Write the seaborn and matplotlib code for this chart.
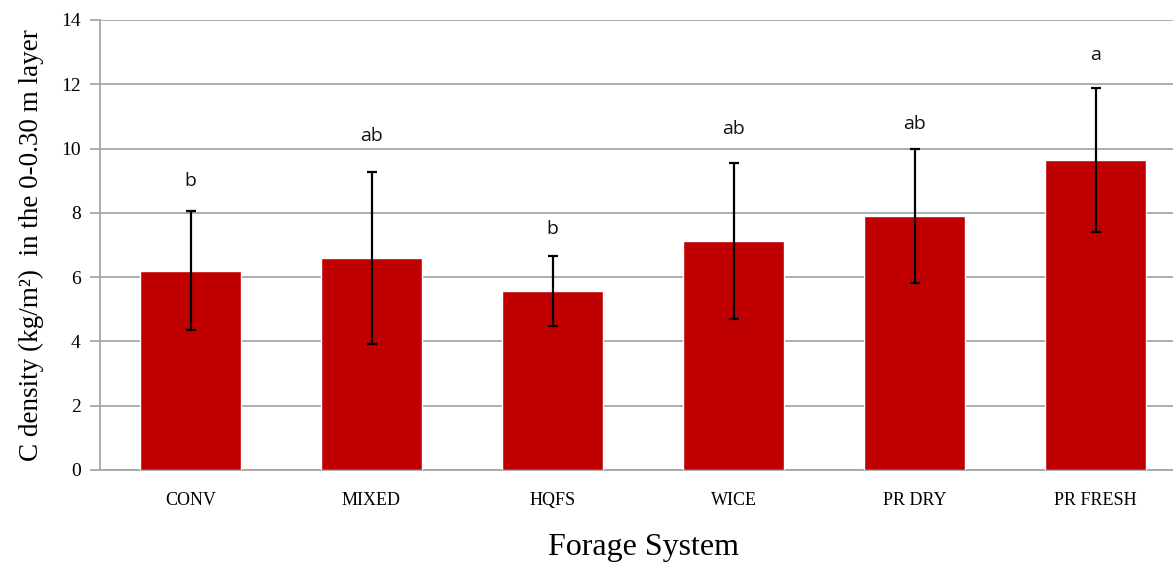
import matplotlib
matplotlib.use("Agg")
import matplotlib.pyplot as plt
import seaborn as sns
import pandas as pd

systems = ["CONV", "MIXED", "HQFS", "WICE", "PR DRY", "PR FRESH"]
c_density = [6.20, 6.59, 5.57, 7.12, 7.91, 9.64]
std_err = [1.85, 2.68, 1.10, 2.42, 2.09, 2.24]
letters = ["b", "ab", "b", "ab", "ab", "a"]
letter_y = [9.0, 10.4, 7.5, 10.6, 10.75, 12.9]

df = pd.DataFrame({"system": systems, "density": c_density})

sns.set_theme(style="white")
plt.rcParams["font.family"] = ["Liberation Serif", "DejaVu Serif"]
plt.rcParams["text.color"] = "black"
plt.rcParams["axes.labelcolor"] = "black"
plt.rcParams["xtick.labelcolor"] = "black"
plt.rcParams["ytick.labelcolor"] = "black"

fig = plt.figure(figsize=(11.73, 5.67), dpi=100)
ax = fig.add_axes([100 / 1173, 97 / 567, 1086 / 1173, 450 / 567])

sns.barplot(data=df, x="system", y="density", color="#C00000", saturation=1,
            width=0.56, ax=ax, zorder=3)
ax.errorbar(range(len(systems)), c_density, yerr=std_err, fmt="none",
            ecolor="black", elinewidth=1.6, capsize=3.8, capthick=1.6, zorder=4)

for i, (lab, ly) in enumerate(zip(letters, letter_y)):
    ax.text(i, ly, lab, ha="center", va="center", fontsize=14,
            family=["Open Sans", "DejaVu Sans"], color="#111111")

ax.set_ylim(0, 14)
ax.set_xlim(-0.5, len(systems) - 0.5)
ax.set_yticks(range(0, 15, 2))
ax.yaxis.grid(True, color="#a6a6a6", linewidth=1.3, zorder=0)
ax.set_axisbelow(True)

ax.set_xticks(range(len(systems)))
ax.set_xticklabels(systems, fontsize=13)
ax.set_xticks([i - 0.5 for i in range(len(systems) + 1)], minor=True)
ax.tick_params(axis="x", which="major", length=0, pad=16)
ax.tick_params(axis="x", which="minor", length=5, width=1.3, color="#a6a6a6", direction="out")
ax.tick_params(axis="y", length=7, width=1.3, color="#a6a6a6", direction="out",
               labelsize=14, pad=7, left=True)

for side in ["top", "right"]:
    ax.spines[side].set_visible(False)
for side in ["left", "bottom"]:
    ax.spines[side].set_color("#a6a6a6")
    ax.spines[side].set_linewidth(1.3)

ax.set_xlabel("Forage System", fontsize=23, labelpad=17)
ax.set_ylabel("C density (kg/m²)  in the 0-0.30 m layer", fontsize=19.5, labelpad=12)

fig.savefig("out.png", dpi=100)
